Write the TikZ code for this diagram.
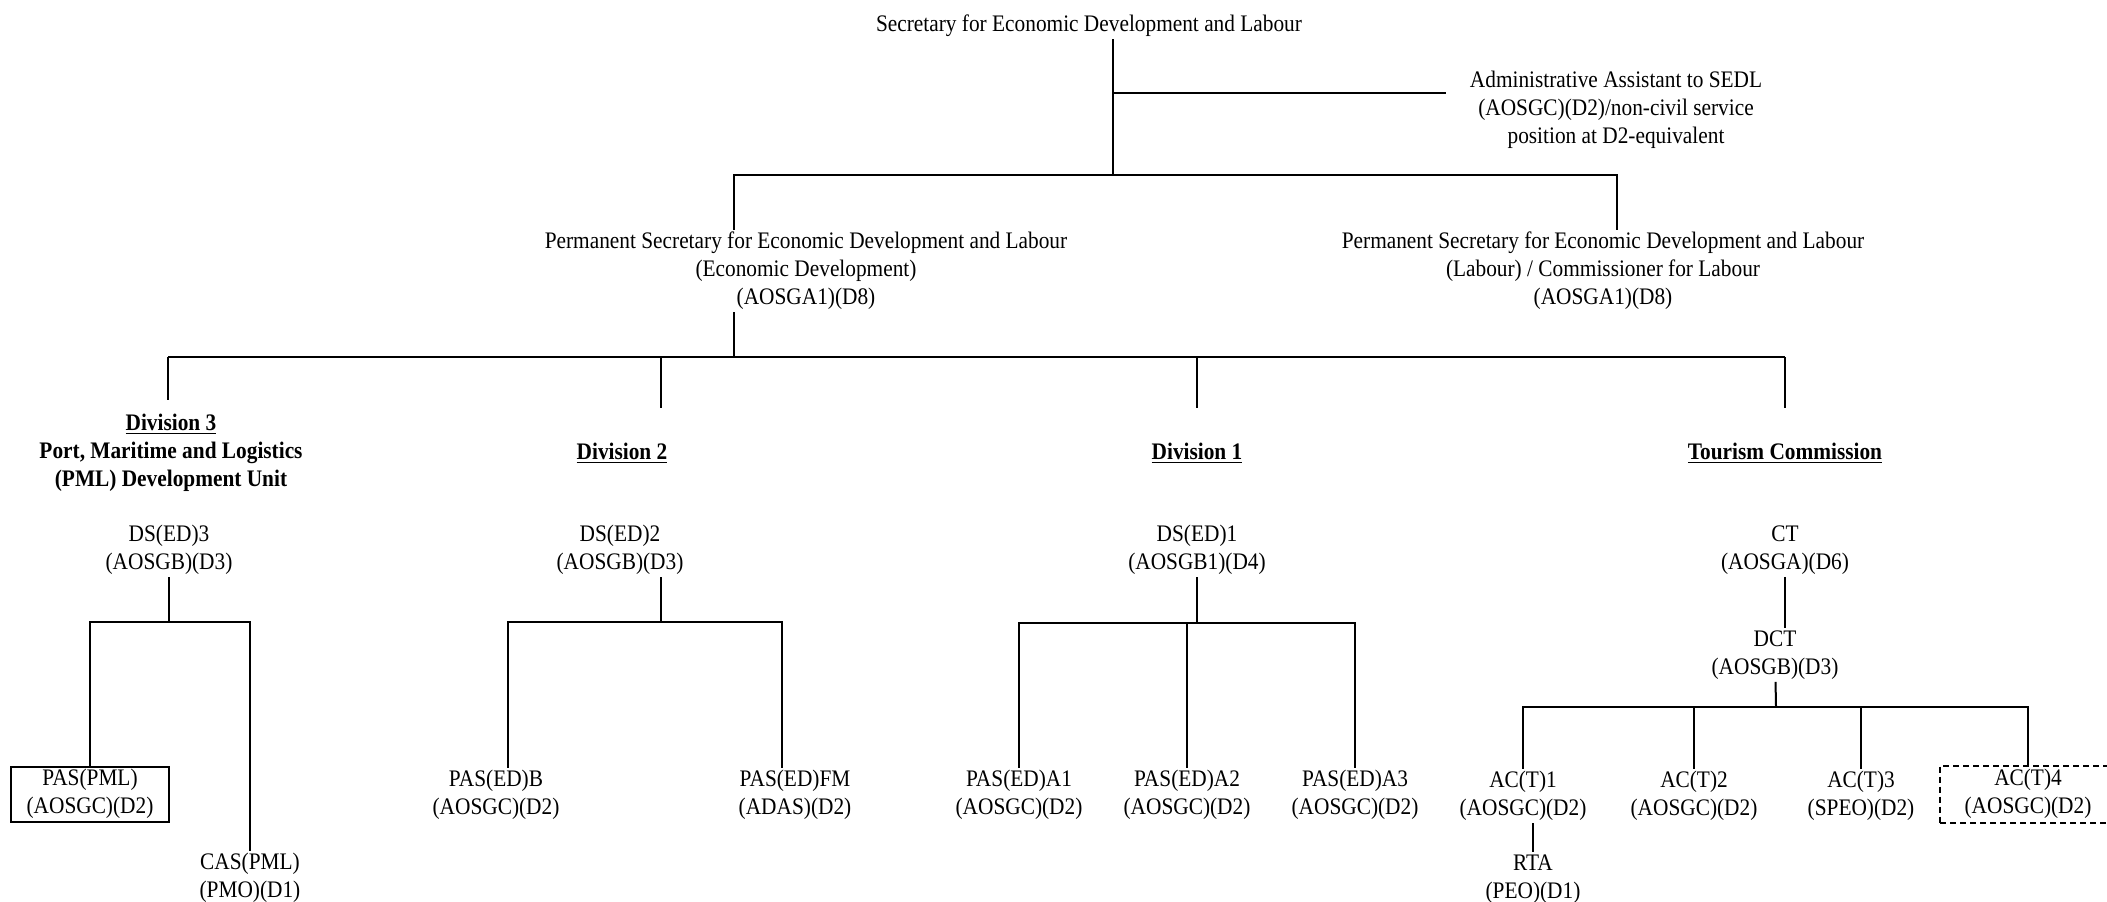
\documentclass[tikz,border=0pt]{standalone}
\usepackage{fontspec}
\setmainfont{Liberation Serif}[FakeStretch=0.9]
\newcommand{\postfont}{\fontsize{11.85}{14}\selectfont}
\tikzset{
  post/.style={align=center,inner sep=1pt,font=\postfont},
  head/.style={post,font=\postfont\bfseries},
  link/.style={line width=1pt},
}

\begin{document}
\begin{tikzpicture}[x=0.5pt,y=-0.5pt]
      \useasboundingbox (0,0) rectangle (2107,901);

      \node[post] (sedl) at (1089,26) {Secretary for Economic Development and Labour};
      \node[post,inner xsep=12pt] (aa) at (1616,110) {Administrative Assistant to SEDL\\(AOSGC)(D2)/non-civil service\\position at D2-equivalent};
      \node[post] (psed) at (806,271) {Permanent Secretary for Economic Development and Labour\\(Economic Development)\\(AOSGA1)(D8)};
      \node[post] (psl) at (1603,271) {Permanent Secretary for Economic Development and Labour\\(Labour) / Commissioner for Labour\\(AOSGA1)(D8)};

      \coordinate (top) at (1113,175);
      \coordinate (ja) at (1113,93);
      \coordinate (b1l) at (734,175);
      \coordinate (b1r) at (1617,175);
      \draw[link] (sedl.south -| top) -- (top);
      \draw[link] (ja) -- (ja -| aa.west);
      \draw[link] (psed.north -| b1l) -- (b1l) -- (b1r) -- (psl.north -| b1r);

      \node[head] (div3) at (171,453) {\underline{Division 3}\\Port, Maritime and Logistics\\(PML) Development Unit};
      \node[head] (div2) at (622,453) {\underline{Division 2}};
      \node[head] (div1) at (1197,453) {\underline{Division 1}};
      \node[head] (tc) at (1785,453) {\underline{Tourism Commission}};

      \coordinate (j3) at (168,357);
      \coordinate (j2) at (661,357);
      \coordinate (j1) at (1197,357);
      \coordinate (jt) at (1785,357);
      \draw[link] (psed.south -| b1l) -- (b1l |- j3);
      \draw[link] (j3) -- (jt);
      \draw[link,shorten >=6pt] (j3) -- (div3.north -| j3);
      \draw[link,shorten >=16pt] (j2) -- (div2.north -| j2);
      \draw[link,shorten >=16pt] (j1) -- (div1.north);
      \draw[link,shorten >=16pt] (jt) -- (tc.north);

      \node[post] (ds3) at (169,550) {DS(ED)3\\(AOSGB)(D3)};
      \node[post] (ds2) at (620,550) {DS(ED)2\\(AOSGB)(D3)};
      \node[post] (ds1) at (1197,550) {DS(ED)1\\(AOSGB1)(D4)};
      \node[post] (ct) at (1785,550) {CT\\(AOSGA)(D6)};

      \node[post,draw,line width=1pt,minimum width=79pt,minimum height=27.5pt] (pas3) at (90,794) {PAS(PML)\\(AOSGC)(D2)};
      \node[post] (cas3) at (250,878) {CAS(PML)\\(PMO)(D1)};
      \coordinate (k3) at (169,622);
      \draw[link] (ds3) -- (k3);
      \draw[link] (pas3.north) |- (k3) -| (cas3.north);

      \node[post] (pasb) at (496,795) {PAS(ED)B\\(AOSGC)(D2)};
      \node[post] (pasfm) at (795,795) {PAS(ED)FM\\(ADAS)(D2)};
      \coordinate (k2) at (661,622);
      \coordinate (k2l) at (508,622);
      \coordinate (k2r) at (782,622);
      \draw[link] (ds2.south -| k2) -- (k2);
      \draw[link] (pasb.north -| k2l) -- (k2l) -- (k2r) -- (pasfm.north -| k2r);

      \node[post] (a1) at (1019,795) {PAS(ED)A1\\(AOSGC)(D2)};
      \node[post] (a2) at (1187,795) {PAS(ED)A2\\(AOSGC)(D2)};
      \node[post] (a3) at (1355,795) {PAS(ED)A3\\(AOSGC)(D2)};
      \coordinate (k1) at (1197,623);
      \draw[link] (ds1) -- (k1);
      \draw[link] (a1.north) |- (k1) -| (a3.north);
      \draw[link] (a2.north) -- (a2.north |- k1);

      \node[post] (dct) at (1775,655) {DCT\\(AOSGB)(D3)};
      \draw[link] (ct.south) -- (ct.south |- dct.north);
      \node[post] (c1) at (1523,796) {AC(T)1\\(AOSGC)(D2)};
      \node[post] (c2) at (1694,796) {AC(T)2\\(AOSGC)(D2)};
      \node[post] (c3) at (1861,796) {AC(T)3\\(SPEO)(D2)};
      \node[post,draw,line width=1pt,dash pattern=on 3pt off 2pt,minimum width=88pt,minimum height=28.5pt] (c4) at (2028,794) {AC(T)4\\(AOSGC)(D2)};
      \node[post] (rta) at (1533,879) {RTA\\(PEO)(D1)};
      \coordinate (kt) at (1776,707);
      \draw[link] (dct) -- (kt);
      \draw[link] (c1.north) |- (kt) -| (c4.north);
      \draw[link] (c2.north) -- (c2.north |- kt);
      \draw[link] (c3.north) -- (c3.north |- kt);
      \draw[link] (c1.south -| rta) -- (rta);
\end{tikzpicture}
\end{document}
